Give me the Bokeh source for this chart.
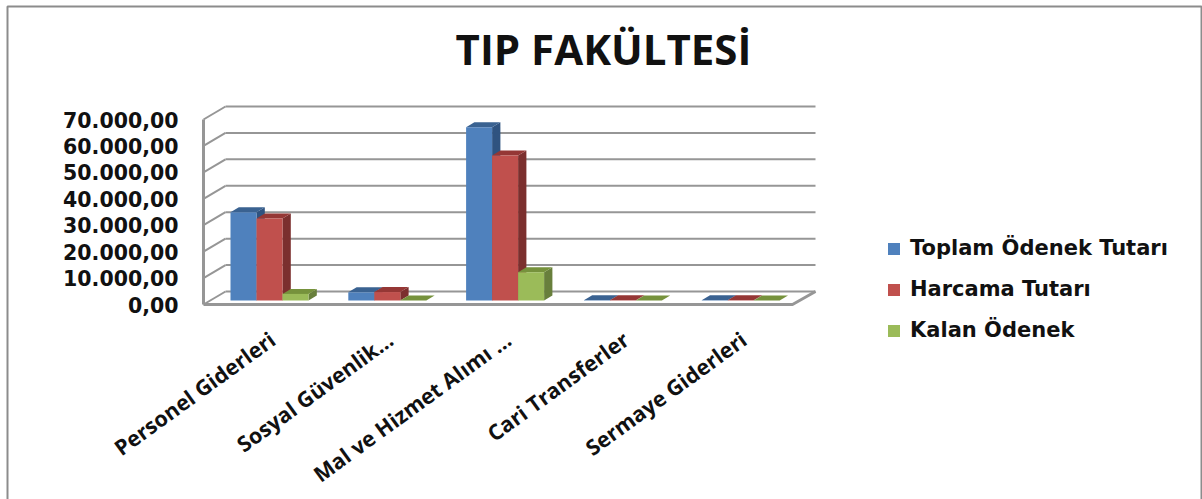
import math
from bokeh.plotting import figure
from bokeh.embed import file_html
from bokeh.resources import INLINE
from bokeh.models import Range1d, FixedTicker, Legend, LegendItem, LinearAxis, Label

categories = ["Personel Giderleri", "Sosyal Güvenlik…", "Mal ve Hizmet Alımı …", "Cari Transferler", "Sermaye Giderleri"]
series_names = ["Toplam Ödenek Tutarı", "Harcama Tutarı", "Kalan Ödenek"]
toplam = [33400, 3100, 65600, 100, 100]
harcama = [31000, 3200, 54900, 100, 100]
kalan = [2500, 0, 10700, 0, 0]
y_ticks = [0, 10000, 20000, 30000, 40000, 50000, 60000, 70000]
y_tick_labels = ["0,00", "10.000,00", "20.000,00", "30.000,00", "40.000,00", "50.000,00", "60.000,00", "70.000,00"]
front_colors = ["#4F81BD", "#C0504D", "#9BBB59"]
top_colors = ["#3A6291", "#953735", "#76923C"]
side_colors = ["#2F5380", "#7B2F2E", "#687F3C"]

W, H = 1202, 499
LEFT, TOP, ZERO_Y, WALL_RIGHT = 203, 106, 304, 815
CAT_PX = 117.8
PX_Y = 70000 / 185.0          # value units per pixel
GRID = "#969696"
FRAME = "#8c8c8c"


def px_x(px):
    return (px - LEFT) / CAT_PX


def px_y(py):
    return (ZERO_Y - py) * PX_Y


xwall = px_x(WALL_RIGHT)

p = figure(width=W, height=H, output_backend="svg", toolbar_location=None,
           x_range=Range1d(px_x(0), px_x(W)), y_range=Range1d(px_y(H), px_y(0)),
           x_axis_type=None, y_axis_type=None,
           min_border_left=0, min_border_right=0, min_border_top=0, min_border_bottom=0,
           background_fill_color="white", border_fill_color="white")
p.outline_line_color = None
p.grid.visible = False

# chart-area border (open at the bottom of the picture)
p.line(x=[px_x(7), px_x(7), px_x(1201), px_x(1201)], y=[px_y(H), px_y(6), px_y(6), px_y(H)],
       line_color=FRAME, line_width=2)

p.add_layout(Label(x=px_x(603), y=px_y(48), text="TIP FAKÜLTESİ", text_font="Open Sans", text_font_size="42px",
                   text_font_style="bold", text_color="#111111", text_align="center", text_baseline="middle"))

wall_dx = 22 / CAT_PX
wall_dy = 13 * PX_Y
bar_w = 26 / CAT_PX
bar_start = 27 / CAT_PX
bar_dx = 8.3 / CAT_PX
bar_dy = 5 * PX_Y
base = 4 * PX_Y

p.segment(x0=[wall_dx] * len(y_ticks), y0=[v + wall_dy for v in y_ticks],
          x1=[xwall] * len(y_ticks), y1=[v + wall_dy for v in y_ticks], line_color=GRID, line_width=2)
p.segment(x0=[0] * len(y_ticks), y0=y_ticks,
          x1=[wall_dx] * len(y_ticks), y1=[v + wall_dy for v in y_ticks], line_color=GRID, line_width=2)
p.line(x=[0, 5, xwall], y=[0, 0, wall_dy], line_color=GRID, line_width=3)

rows = [toplam, harcama, kalan]
front_renderers = []
for s, vals in enumerate(rows):
    lefts = [c + bar_start + s * bar_w for c in range(5)]
    rights = [l + bar_w for l in lefts]
    tops = [base + v for v in vals]
    bottoms = [base] * 5
    tx, ty, sx, sy = [], [], [], []
    for l, r, t, b in zip(lefts, rights, tops, bottoms):
        tx.append([l, r, r + bar_dx, l + bar_dx]); ty.append([t, t, t + bar_dy, t + bar_dy])
        sx.append([r, r + bar_dx, r + bar_dx, r]); sy.append([b, b + bar_dy, t + bar_dy, t])
    p.patches(sx, sy, fill_color=side_colors[s], line_color=None)
    p.patches(tx, ty, fill_color=top_colors[s], line_color=None)
    front_renderers.append(p.quad(left=lefts, right=rights, top=tops, bottom=bottoms,
                                  fill_color=front_colors[s], line_color=None))

y_axis = LinearAxis(ticker=FixedTicker(ticks=y_ticks), bounds=(0, 70000), fixed_location=0,
                    major_label_overrides=dict(zip(y_ticks, y_tick_labels)),
                    major_label_text_font="DejaVu Sans", major_label_text_font_size="20.5px",
                    major_label_text_font_style="bold", major_label_text_color="#111111",
                    major_tick_line_color=None, minor_tick_line_color=None,
                    axis_line_color=GRID, axis_line_width=3, major_label_standoff=19)
p.add_layout(y_axis, "left")

cat_pos = [c + 0.585 for c in range(5)]
x_axis = LinearAxis(ticker=FixedTicker(ticks=cat_pos), fixed_location=0,
                    major_label_overrides=dict(zip(cat_pos, categories)),
                    major_label_orientation=math.radians(36),
                    major_label_text_font="Open Sans", major_label_text_font_size="21.5px",
                    major_label_text_font_style="bold", major_label_text_color="#111111",
                    major_tick_line_color=None, minor_tick_line_color=None,
                    axis_line_color=None, major_label_standoff=26)
p.add_layout(x_axis, "below")

legend = Legend(items=[LegendItem(label=n, renderers=[r]) for n, r in zip(series_names, front_renderers)],
                location=(886, 157), background_fill_alpha=0, border_line_color=None,
                label_text_font="DejaVu Sans", label_text_font_size="21px", label_text_font_style="bold",
                label_text_color="#111111", glyph_width=15, glyph_height=15, spacing=17, label_standoff=9,
                padding=0, margin=0, label_height=19)
p.add_layout(legend, "center")

open("out.html", "w").write(file_html(p, INLINE))
